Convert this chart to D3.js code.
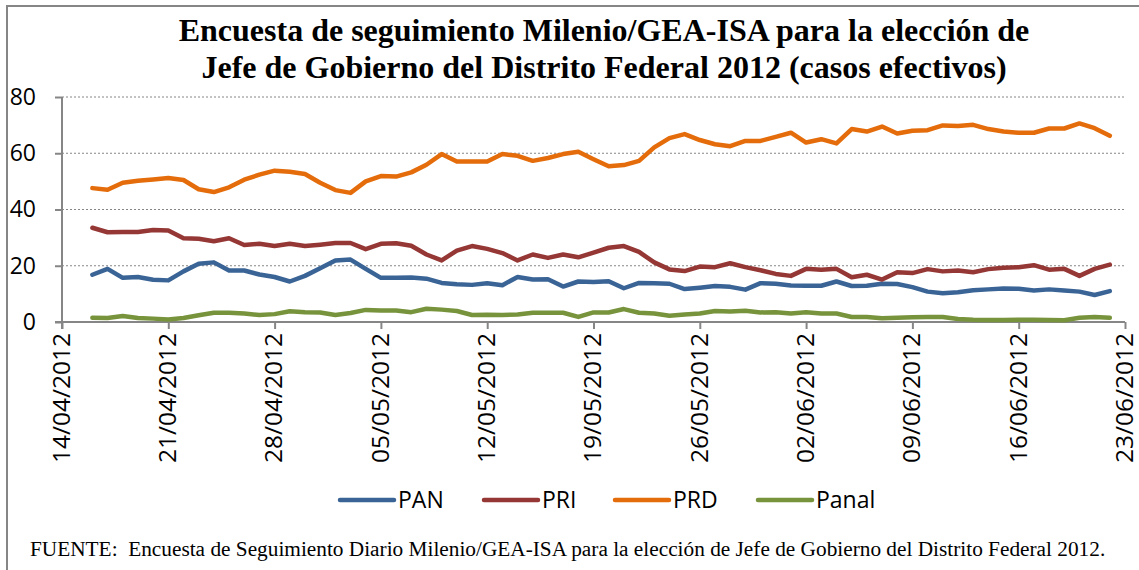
<!DOCTYPE html>
<meta charset="utf-8">
<script src="https://d3js.org/d3.v7.min.js"></script>
<style>
  body { margin: 0; background: #fff; }
  svg { display: block; }
  .title { font-family: 'Liberation Serif', 'Times New Roman', serif; font-weight: bold; font-size: 32px; fill: #000; }
  .note { font-family: 'Liberation Serif', 'Times New Roman', serif; font-size: 21.3px; fill: #000; }
  .axis text, .legend text { font-family: 'Open Sans', sans-serif; font-size: 23px; fill: #000; }
  .xaxis text { font-size: 24.5px; }
  .grid line { stroke: #868686; stroke-width: 1; stroke-dasharray: 2 2; }
  .series { fill: none; stroke-width: 4.5; stroke-linejoin: round; stroke-linecap: round; }
</style>
<div id="chart"></div>
<script>

// daily values, 16/04/2012 .. 22/06/2012
var firstDay = new Date(2012, 3, 16);

var PAN = [16.8, 18.9, 15.7, 16.0, 15.0, 14.8, 18.0, 20.7, 21.2, 18.3, 18.3, 16.9, 16.0, 14.4, 16.4, 19.1, 21.9, 22.2, 18.9, 15.7,
  15.7, 15.8, 15.4, 13.9, 13.4, 13.2, 13.8, 13.1, 16.0, 15.1, 15.2, 12.6, 14.4, 14.2, 14.5, 12.0, 13.9, 13.8, 13.6, 11.7,
  12.2, 12.8, 12.5, 11.5, 13.8, 13.6, 13.0, 12.9, 12.9, 14.4, 12.8, 12.9, 13.6, 13.5, 12.4, 10.8, 10.2, 10.6, 11.3, 11.6,
  11.9, 11.8, 11.2, 11.6, 11.2, 10.8, 9.6, 11.0];

var PRI = [33.5, 31.9, 32.0, 32.0, 32.7, 32.5, 29.8, 29.6, 28.7, 29.8, 27.4, 27.8, 27.0, 27.8, 27.0, 27.5, 28.1, 28.1, 25.9, 27.8,
  28.0, 27.1, 24.0, 21.9, 25.4, 27.0, 26.0, 24.5, 21.9, 24.0, 22.8, 24.0, 23.0, 24.7, 26.4, 27.0, 24.9, 21.2, 18.7, 18.1,
  19.7, 19.5, 20.9, 19.5, 18.4, 17.1, 16.4, 18.9, 18.6, 18.9, 15.9, 16.8, 15.1, 17.7, 17.4, 18.8, 18.0, 18.3, 17.7, 18.8,
  19.3, 19.5, 20.2, 18.6, 18.9, 16.4, 18.9, 20.4];

var PRD = [47.6, 47.0, 49.5, 50.2, 50.7, 51.2, 50.5, 47.2, 46.2, 47.9, 50.6, 52.4, 53.8, 53.4, 52.6, 49.5, 46.9, 45.9, 50.0, 51.9,
  51.7, 53.2, 55.9, 59.7, 57.1, 57.1, 57.1, 59.7, 59.1, 57.3, 58.3, 59.7, 60.5, 57.9, 55.4, 55.8, 57.3, 62.1, 65.4, 66.8,
  64.7, 63.2, 62.5, 64.4, 64.4, 65.8, 67.3, 63.8, 65.0, 63.5, 68.6, 67.7, 69.5, 67.0, 68.0, 68.2, 69.9, 69.7, 70.1, 68.6,
  67.7, 67.3, 67.3, 68.8, 68.8, 70.6, 68.9, 66.2];

var Panal = [1.5, 1.4, 2.1, 1.4, 1.2, 0.9, 1.4, 2.4, 3.3, 3.3, 3.0, 2.5, 2.8, 3.8, 3.5, 3.4, 2.5, 3.2, 4.3, 4.1,
  4.1, 3.5, 4.7, 4.4, 3.9, 2.5, 2.6, 2.5, 2.7, 3.3, 3.3, 3.3, 1.8, 3.4, 3.4, 4.6, 3.3, 3.0, 2.2, 2.7,
  3.0, 3.9, 3.7, 4.0, 3.4, 3.5, 3.0, 3.5, 3.0, 3.0, 1.8, 1.8, 1.3, 1.5, 1.7, 1.8, 1.8, 1.1, 0.8, 0.7,
  0.7, 0.8, 0.8, 0.7, 0.6, 1.5, 1.8, 1.5];

var seriesNames = ["PAN", "PRI", "PRD", "Panal"];
var seriesColors = ["#3a6496", "#953735", "#e46c0a", "#77933c"];
var yTicks = [0, 20, 40, 60, 80];

var W = 1139, H = 570;
var plotL = 62, plotR = 1125, plotT = 97, plotB = 322;

var svg = d3.select("#chart").append("svg")
    .attr("width", W)
    .attr("height", H);

// outer frame
svg.append("rect")
    .attr("x", 7).attr("y", 6)
    .attr("width", W).attr("height", H)
    .attr("fill", "none")
    .attr("stroke", "#868686")
    .attr("stroke-width", 2);

// title
var title = svg.append("text")
    .attr("class", "title")
    .attr("text-anchor", "middle");
title.append("tspan").attr("x", 604).attr("y", 41)
    .text("Encuesta de seguimiento Milenio/GEA-ISA para la elección de");
title.append("tspan").attr("x", 604).attr("y", 78)
    .text("Jefe de Gobierno del Distrito Federal 2012 (casos efectivos)");

var x = d3.scaleTime()
    .domain([new Date(2012, 3, 14), new Date(2012, 5, 23)])
    .range([plotL, plotR]);

var y = d3.scaleLinear()
    .domain([0, 80])
    .range([plotB, plotT]);

// gridlines
svg.append("g")
    .attr("class", "grid")
  .selectAll("line")
  .data(yTicks.filter(function(d) { return d > 0; }))
  .enter().append("line")
    .attr("x1", plotL).attr("x2", plotR)
    .attr("y1", function(d) { return y(d); })
    .attr("y2", function(d) { return y(d); });

// y axis
var yAxis = svg.append("g")
    .attr("class", "axis")
    .attr("transform", "translate(" + plotL + ",0)")
    .call(d3.axisLeft(y).tickValues(yTicks).tickSize(7).tickPadding(19));
yAxis.select(".domain").remove();
yAxis.append("line")
    .attr("y1", plotT).attr("y2", plotB + 7)
    .attr("stroke", "#868686").attr("stroke-width", 2);
yAxis.selectAll(".tick line").attr("stroke", "#868686").attr("stroke-width", 2);

// x axis
var xAxis = svg.append("g")
    .attr("class", "axis xaxis")
    .attr("transform", "translate(0," + plotB + ")")
    .call(d3.axisBottom(x)
      .tickValues(d3.timeDay.range(new Date(2012, 3, 14), new Date(2012, 5, 24), 7))
      .tickSize(7)
      .tickFormat(d3.timeFormat("%d/%m/%Y")));
xAxis.select(".domain").remove();
xAxis.append("line")
    .attr("x1", plotL - 7).attr("x2", plotR)
    .attr("stroke", "#868686").attr("stroke-width", 2);
xAxis.selectAll(".tick line").attr("stroke", "#868686").attr("stroke-width", 2);
xAxis.selectAll(".tick text")
    .attr("transform", "rotate(-90)")
    .attr("text-anchor", "end")
    .attr("x", -11)
    .attr("y", 0)
    .attr("dy", "0.3em");

// lines
var allSeries = [PAN, PRI, PRD, Panal];
var line = d3.line()
    .x(function(d, i) { return x(d3.timeDay.offset(firstDay, i)); })
    .y(function(d) { return y(d); });

svg.selectAll(".series")
  .data(allSeries)
  .enter().append("path")
    .attr("class", "series")
    .attr("stroke", function(d, i) { return seriesColors[i]; })
    .attr("d", line);

// legend
var legendX = [340, 484, 615, 758];
var legend = svg.append("g").attr("class", "legend");
var item = legend.selectAll("g")
  .data(seriesNames)
  .enter().append("g")
    .attr("transform", function(d, i) { return "translate(" + legendX[i] + ",500)"; });
item.append("line")
    .attr("x1", 0).attr("x2", 54)
    .attr("stroke", function(d, i) { return seriesColors[i]; })
    .attr("stroke-width", 4.5)
    .attr("stroke-linecap", "round");
item.append("text")
    .attr("x", 58)
    .attr("dy", "0.36em")
    .text(function(d) { return d; });

// source note
svg.append("text")
    .attr("class", "note")
    .attr("x", 30)
    .attr("y", 556)
    .attr("xml:space", "preserve")
    .text("FUENTE:  Encuesta de Seguimiento Diario Milenio/GEA-ISA para la elección de Jefe de Gobierno del Distrito Federal 2012.");

</script>
